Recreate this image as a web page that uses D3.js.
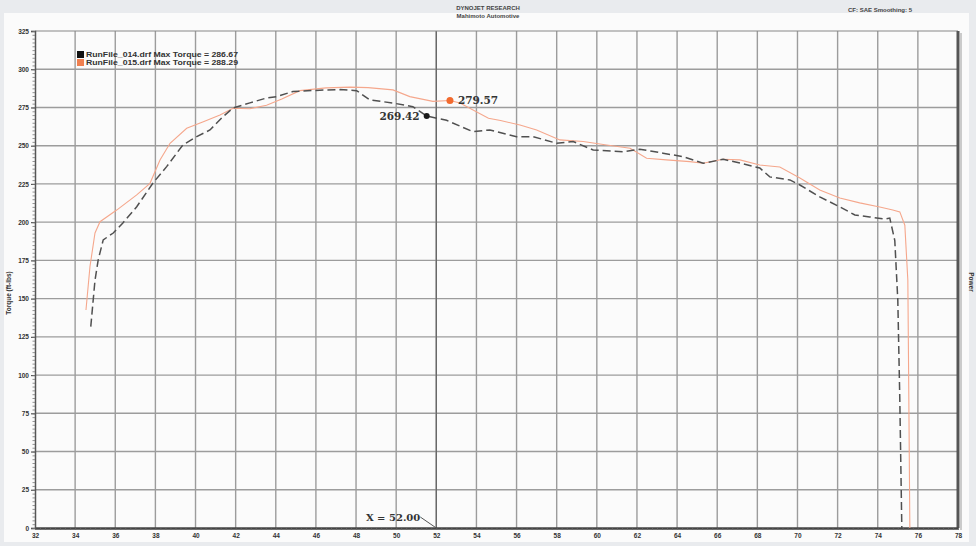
<!DOCTYPE html>
<html>
<head>
<meta charset="utf-8">
<script src="https://cdn.jsdelivr.net/npm/d3@7/dist/d3.min.js"></script>
<style>
  html, body { margin: 0; padding: 0; background: #e9ebee; }
  svg { display: block; }
  text { font-family: "Liberation Sans", Arial, sans-serif; }
</style>
</head>
<body>
<svg id="chart" width="976" height="546"></svg>
<script>
// Dyno run 014 (dashed) – speed vs torque
const run014Speed  = [34.78, 34.99, 35.15, 35.40, 35.90, 36.38, 37.07, 37.88, 38.56, 39.37, 40.06, 40.72, 41.37, 41.87, 42.71, 43.54, 44.04, 44.85, 46.2, 47.2, 48.03, 48.69, 49.84, 50.83, 51.52, 52.51, 53.82, 54.67, 56.0, 56.83, 58.0, 58.82, 59.82, 61.31, 62.14, 63.3, 64.3, 65.3, 66.3, 67.13, 68.12, 68.62, 69.62, 70.12, 71.11, 72.11, 72.86, 73.6, 74.35, 74.6, 74.85, 75.0, 75.1, 75.2];
const run014Torque = [131.7, 162, 175.3, 188.4, 192.9, 199.5, 210.1, 225.6, 236.3, 250.5, 255.9, 260.3, 269, 274.7, 278, 281.2, 282.1, 285.4, 286.3, 286.67, 286.0, 279.9, 277.9, 275.5, 269.42, 266.6, 259.2, 260.3, 255.9, 255.9, 251.6, 252.7, 247.2, 246.1, 247.7, 245.1, 242.8, 238.5, 241.1, 238.7, 235.4, 229.6, 227.6, 224.3, 216.5, 210, 204.7, 203.4, 202, 202.7, 188, 149, 83.7, 0];

// Dyno run 015 (solid) – speed vs torque
const run015Speed  = [34.54, 34.74, 34.99, 35.24, 36.07, 37.07, 37.73, 38.23, 38.73, 39.56, 40.39, 41.22, 41.87, 42.71, 43.54, 44.3, 45.2, 46.5, 47.7, 48.6, 49.84, 50.68, 51.83, 52.68, 53.18, 54.6, 55.2, 56.17, 57.0, 58.16, 59.32, 60.49, 61.66, 62.48, 63.47, 64.63, 65.3, 66.28, 67.13, 68.12, 69.12, 70.12, 71.11, 72.11, 73.1, 74.1, 74.75, 75.1, 75.35, 75.5, 75.55, 75.6];
const run015Torque = [142.6, 171, 192.9, 200.3, 207.9, 217.8, 225.4, 240.7, 251.6, 261.4, 265.7, 270.1, 274.5, 274.2, 276.5, 280.5, 286.0, 287.8, 288.29, 288, 286.5, 282.1, 279, 279.57, 277.9, 268, 266.5, 263.5, 260.3, 253.8, 252.7, 250.5, 248.3, 241.8, 240.7, 239.6, 238.5, 241.1, 240.7, 237.4, 236.1, 228.9, 221.1, 215.8, 212.6, 209.9, 208, 206.7, 198, 162, 83.7, 0];

// Cursor readout
const cursorX = 52.00;
const readout015 = { speed: 52.68, torque: 279.57 };
const readout014 = { speed: 51.52, torque: 269.42 };

// Axis ticks
const xTicks = d3.range(32, 79, 2);
const yTicks = d3.range(0, 326, 25);

const legendLabels = [
  "RunFile_014.drf Max Torque = 286.67",
  "RunFile_015.drf Max Torque = 288.29"
];

const svg = d3.select("#chart");
const L = 35, R = 958, T = 31, B = 528;

const x = d3.scaleLinear().domain([32, 78]).range([L, R]);
const y = d3.scaleLinear().domain([0, 325]).range([B, T]);

// panel
svg.append("rect").attr("x", 4).attr("y", 13).attr("width", 965).attr("height", 529)
  .attr("fill", "#fbfbfb");

// grid
const grid = svg.append("g");
grid.selectAll("line.vx").data(xTicks.filter(d => d > 32 && d < 78)).join("line")
  .attr("x1", d => x(d)).attr("x2", d => x(d)).attr("y1", T).attr("y2", B)
  .attr("stroke", "#9c9c9c").attr("stroke-width", 1.4);
grid.selectAll("line.hy").data(yTicks.filter(d => d > 0 && d < 325)).join("line")
  .attr("x1", L).attr("x2", R).attr("y1", d => y(d)).attr("y2", d => y(d))
  .attr("stroke", "#9c9c9c").attr("stroke-width", 1.4);

// cursor line
svg.append("line").attr("x1", x(cursorX)).attr("x2", x(cursorX)).attr("y1", T).attr("y2", B)
  .attr("stroke", "#666").attr("stroke-width", 1.3);

// frame
svg.append("line").attr("x1", L).attr("x2", R).attr("y1", T).attr("y2", T)
  .attr("stroke", "#888").attr("stroke-width", 1.2);
svg.append("line").attr("x1", R).attr("x2", R).attr("y1", T).attr("y2", B)
  .attr("stroke", "#555").attr("stroke-width", 3);
svg.append("line").attr("x1", R + 3).attr("x2", R + 3).attr("y1", T + 2).attr("y2", B + 2)
  .attr("stroke", "#bbb").attr("stroke-width", 1.5);

// axes
const axisFont = g => g.selectAll("text")
  .attr("font-size", 6.5).attr("font-weight", "bold").attr("fill", "#333")
  .style("font-family", "'Liberation Sans', Arial, sans-serif");

const xAxis = svg.append("g").attr("transform", `translate(0,${B})`)
  .call(d3.axisBottom(x).tickValues(xTicks).tickSize(0).tickPadding(5).tickFormat(d3.format("d")));
xAxis.select(".domain").attr("stroke", "#444").attr("stroke-width", 2.5);
axisFont(xAxis);

const xMinor = svg.append("g").attr("transform", `translate(0,${B})`)
  .call(d3.axisBottom(x).tickValues(d3.range(32, 78.01, 0.25)).tickSize(2).tickFormat(""));
xMinor.select(".domain").remove();
xMinor.selectAll("line").attr("stroke", "#666").attr("stroke-width", 0.8);

const yAxis = svg.append("g").attr("transform", `translate(${L},0)`)
  .call(d3.axisLeft(y).tickValues(yTicks).tickSize(4).tickPadding(2).tickFormat(d3.format("d")));
yAxis.select(".domain").attr("stroke", "#555").attr("stroke-width", 1.5);
yAxis.selectAll(".tick line").attr("stroke", "#555").attr("stroke-width", 1.2);
axisFont(yAxis);

const yMinor = svg.append("g").attr("transform", `translate(${L},0)`)
  .call(d3.axisLeft(y).tickValues(d3.range(0, 325.01, 2.5)).tickSize(2.5).tickFormat(""));
yMinor.select(".domain").remove();
yMinor.selectAll("line").attr("stroke", "#777").attr("stroke-width", 0.8);

// axis titles
svg.append("text").attr("transform", "translate(11,293) rotate(-90)")
  .attr("text-anchor", "middle").attr("font-size", 6.5).attr("font-weight", "bold").attr("fill", "#333")
  .text("Torque (ft-lbs)");
svg.append("text").attr("transform", "translate(969,282) rotate(90)")
  .attr("text-anchor", "middle").attr("font-size", 6.5).attr("font-weight", "bold").attr("fill", "#333")
  .text("Power");

// header
svg.append("text").attr("x", 488).attr("y", 10).attr("text-anchor", "middle")
  .attr("font-size", 6).attr("font-weight", "bold").attr("fill", "#444").text("DYNOJET RESEARCH");
svg.append("text").attr("x", 488).attr("y", 18).attr("text-anchor", "middle")
  .attr("font-size", 6).attr("font-weight", "bold").attr("fill", "#444").text("Mahimoto Automotive");
svg.append("text").attr("x", 848).attr("y", 12)
  .attr("font-size", 6).attr("font-weight", "bold").attr("fill", "#444").text("CF: SAE  Smoothing: 5");

// runs
const line = d3.line().x(d => x(d[0])).y(d => y(d[1]));
const pts015 = run015Speed.map((s, i) => [s, run015Torque[i]]);
const pts014 = run014Speed.map((s, i) => [s, run014Torque[i]]);

svg.append("path").datum(pts015).attr("d", line)
  .attr("fill", "none").attr("stroke", "#f5a78c").attr("stroke-width", 1.1);
svg.append("path").datum(pts014).attr("d", line)
  .attr("fill", "none").attr("stroke", "#505050").attr("stroke-width", 1.5)
  .attr("stroke-dasharray", "8,4");

// legend
const legend = svg.append("g");
const legendColors = ["#111", "#f08050"];
legendLabels.forEach((lbl, i) => {
  legend.append("rect").attr("x", 77).attr("y", 51 + i * 8).attr("width", 7).attr("height", 7)
    .attr("fill", legendColors[i]);
  legend.append("text").attr("x", 86).attr("y", 57 + i * 8)
    .attr("font-size", 6.5).attr("font-weight", "bold").attr("fill", "#333")
    .attr("textLength", 152).attr("lengthAdjust", "spacingAndGlyphs").text(lbl);
});

// readouts
svg.append("circle").attr("cx", x(readout015.speed)).attr("cy", y(readout015.torque)).attr("r", 3.5)
  .attr("fill", "#f26a2e");
svg.append("text").attr("x", x(readout015.speed) + 8).attr("y", y(readout015.torque) + 4)
  .attr("font-size", 10.5).attr("font-weight", "bold").attr("fill", "#333")
  .style("font-family", "'DejaVu Serif', serif")
  .text(readout015.torque.toFixed(2));
svg.append("circle").attr("cx", x(readout014.speed)).attr("cy", y(readout014.torque)).attr("r", 3)
  .attr("fill", "#1a1a1a");
svg.append("text").attr("x", x(readout014.speed) - 7).attr("y", y(readout014.torque) + 4)
  .attr("text-anchor", "end")
  .attr("font-size", 10.5).attr("font-weight", "bold").attr("fill", "#333")
  .style("font-family", "'DejaVu Serif', serif")
  .text(readout014.torque.toFixed(2));

// cursor label
svg.append("text").attr("x", x(cursorX) - 16).attr("y", 521).attr("text-anchor", "end")
  .attr("font-size", 10).attr("font-weight", "bold").attr("fill", "#333")
  .style("font-family", "'DejaVu Serif', serif")
  .text("X = " + cursorX.toFixed(2));
svg.append("line").attr("x1", x(cursorX) - 16).attr("y1", 517).attr("x2", x(cursorX)).attr("y2", B)
  .attr("stroke", "#555").attr("stroke-width", 1);
</script>
</body>
</html>
